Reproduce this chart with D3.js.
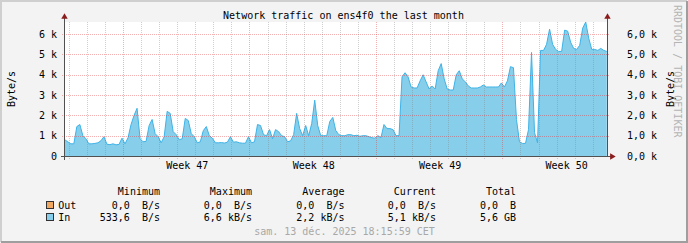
<!DOCTYPE html>
<html>
<head>
<meta charset="utf-8">
<script src="https://cdn.jsdelivr.net/npm/d3@7"></script>
<style>
  html, body { margin: 0; padding: 0; background: #f3f3f3; }
  svg { display: block; font-family: 'DejaVu Sans Mono', monospace; font-size: 10px; }
  text { white-space: pre; }
</style>
</head>
<body>
<svg id="chart" width="688" height="243"></svg>
<script>
'use strict'

// chart data
const title = 'Network traffic on ens4f0 the last month'
const unitLabel = 'Byte/s'
const watermark = 'RRDTOOL / TOBI OETIKER'
const rangeStart = '2025-11-13T18:16:00Z'
const rangeEnd = '2025-12-13T18:16:00Z'
const seriesStart = '2025-11-13T18:00:00Z'
const stepHours = 4
const yTicks = [0, 1000, 2000, 3000, 4000, 5000, 6000]
const yLabelsLeft = ['0', '1 k', '2 k', '3 k', '4 k', '5 k', '6 k']
const yLabelsRight = ['0,0 k', '1,0 k', '2,0 k', '3,0 k', '4,0 k', '5,0 k', '6,0 k']
const weekStarts = ['2025-11-17', '2025-11-24', '2025-12-01', '2025-12-08']
const weekLabels = ['Week 47', 'Week 48', 'Week 49', 'Week 50']

// In traffic, B/s, one value every 4 hours
const inValues = [
  800, 700, 600, 600, 1450, 1550, 1000, 850, 600, 600,
  620, 650, 750, 950, 580, 560, 600, 550, 570, 880,
  600, 900, 1550, 2000, 2350, 850, 700, 720, 1500, 1800,
  1100, 950, 650, 950, 2200, 2100, 1200, 1050, 800, 850,
  1850, 1750, 1100, 950, 650, 700, 1250, 1450, 1000, 880,
  650, 650, 660, 640, 680, 950, 680, 700, 650, 630,
  630, 950, 650, 700, 1550, 1500, 1050, 1000, 1300, 850,
  1300, 1200, 1000, 950, 700, 750, 1050, 2100, 1350, 1000,
  1500, 1000, 1600, 2750, 1500, 1000, 1000, 1000, 1700, 1900,
  1250, 1050, 1000, 1000, 1050, 1050, 1000, 1020, 970, 1000,
  1000, 950, 900, 880, 1000, 900, 1550, 1350, 1350, 1300,
  1000, 1000, 3900, 4100, 3900, 3400, 3350, 3350, 3700, 4000,
  3650, 3300, 3450, 3300, 4200, 4550, 3800, 3300, 3250, 3250,
  4000, 4200, 3800, 3650, 3450, 3350, 3350, 3350, 3400, 3500,
  3400, 3400, 3400, 3400, 3400, 3600, 3400, 3700, 4400, 4350,
  1800, 700, 620, 620, 1300, 5100, 1150, 650, 5200, 5200,
  5500, 6250, 5500, 5250, 5150, 5150, 6200, 6150, 5600, 5300,
  5250, 5450, 6300, 6600, 5800, 5250, 5250, 5200, 5300, 5200,
  5150
]

const legendNames = ['Out', 'In']
const legendHeads = ['Minimum', 'Maximum', 'Average', 'Current', 'Total']
const outStats = ['0,0  B/s', '0,0  B/s', '0,0  B/s', '0,0  B/s', '0,0  B']
const inStats = ['533,6  B/s', '6,6 kB/s', '2,2 kB/s', '5,1 kB/s', '5,6 GB']
const stamp = 'sam. 13 déc. 2025 18:15:59 CET'

// layout
const W = 688
const H = 243
const plot = {left: 65, right: 607, top: 22, bottom: 156}
const colors = {
  back: '#f3f3f3',
  shadeA: '#cfcfcf',
  shadeB: '#9e9e9e',
  canvas: '#ffffff',
  fill: '#87ceeb',
  line: '#3fb3e6',
  out: '#f0a860',
  minor: 'rgba(128,128,128,0.38)',
  major: 'rgba(225,50,50,0.38)',
  axis: '#505050',
  arrow: '#8b1c1c',
  stamp: '#a8a8a8',
  mark: '#b4b4b4'
}
const colRight = [160, 252, 344.5, 436, 516]

const svg = d3.select('#chart')

svg.append('rect').attr('width', W).attr('height', H).attr('fill', colors.back)
svg.append('path').attr('d', `M1,${H - 1}V1H${W - 1}`)
  .attr('fill', 'none').attr('stroke', colors.shadeA).attr('stroke-width', 2)
svg.append('path').attr('d', `M1,${H - 1}H${W - 1}V1`)
  .attr('fill', 'none').attr('stroke', colors.shadeB).attr('stroke-width', 2)

svg.append('rect')
  .attr('x', plot.left).attr('y', plot.top)
  .attr('width', plot.right - plot.left).attr('height', plot.bottom - plot.top)
  .attr('fill', colors.canvas)

svg.append('clipPath').attr('id', 'clip').append('rect')
  .attr('x', plot.left).attr('y', plot.top)
  .attr('width', plot.right - plot.left).attr('height', plot.bottom - plot.top)

const x = d3.scaleUtc()
  .domain([new Date(rangeStart), new Date(rangeEnd)])
  .range([plot.left, plot.right])
const y = d3.scaleLinear()
  .domain([0, d3.max(inValues)])
  .range([plot.bottom, plot.top])

const t0 = new Date(seriesStart).getTime()
const series = inValues.map(function (v, i) {
  return {t: new Date(t0 + i * stepHours * 3600e3), v: v}
})

const area = d3.area()
  .x(function (d) { return x(d.t) })
  .y0(y(0))
  .y1(function (d) { return y(d.v) })
const line = d3.line()
  .x(function (d) { return x(d.t) })
  .y(function (d) { return y(d.v) })

const data = svg.append('g').attr('clip-path', 'url(#clip)')
data.append('path').datum(series).attr('d', area).attr('fill', colors.fill)
data.append('path').datum(series).attr('d', line)
  .attr('fill', 'none').attr('stroke', colors.line).attr('stroke-width', 1)

// grid on top of the graph, like rrdtool
const grid = svg.append('g').attr('shape-rendering', 'crispEdges')
  .attr('stroke-dasharray', '1,1')
const days = d3.utcDay.range(x.domain()[0], x.domain()[1])
const mondays = weekStarts.map(function (s) { return +new Date(s + 'T00:00:00Z') })
grid.selectAll('.vgrid')
  .data(days)
  .enter().append('line')
  .attr('class', 'vgrid')
  .attr('x1', function (d) { return Math.floor(x(d)) + 0.5 })
  .attr('x2', function (d) { return Math.floor(x(d)) + 0.5 })
  .attr('y1', plot.top)
  .attr('y2', plot.bottom + 3)
  .attr('stroke', function (d) { return mondays.indexOf(+d) >= 0 ? colors.major : colors.minor })
grid.selectAll('.hgrid')
  .data(yTicks.slice(1))
  .enter().append('line')
  .attr('class', 'hgrid')
  .attr('x1', plot.left - 3)
  .attr('x2', plot.right + 3)
  .attr('y1', function (d) { return Math.round(y(d)) + 0.5 })
  .attr('y2', function (d) { return Math.round(y(d)) + 0.5 })
  .attr('stroke', colors.major)

// axis lines and arrows
const axes = svg.append('g').attr('shape-rendering', 'crispEdges').attr('stroke', colors.axis)
axes.append('line').attr('x1', plot.left - 0.5).attr('x2', plot.left - 0.5)
  .attr('y1', plot.top - 4).attr('y2', plot.bottom + 4)
axes.append('line').attr('x1', plot.right + 0.5).attr('x2', plot.right + 0.5)
  .attr('y1', plot.top - 4).attr('y2', plot.bottom + 1)
axes.append('line').attr('x1', plot.left - 4).attr('x2', plot.right + 4)
  .attr('y1', plot.bottom + 0.5).attr('y2', plot.bottom + 0.5)

const tri = d3.symbol().type(d3.symbolTriangle).size(18)
svg.append('path').attr('d', tri).attr('fill', colors.arrow)
  .attr('transform', `translate(${plot.left - 0.5},${plot.top - 5})`)
svg.append('path').attr('d', tri).attr('fill', colors.arrow)
  .attr('transform', `translate(${plot.right + 0.5},${plot.top - 5})`)
svg.append('path').attr('d', tri).attr('fill', colors.arrow)
  .attr('transform', `translate(${plot.right + 5},${plot.bottom + 0.5}) rotate(90)`)

// tick labels through d3 axes
const leftAxis = d3.axisLeft(y).tickValues(yTicks).tickSize(0).tickPadding(8)
  .tickFormat(function (d, i) { return yLabelsLeft[i] })
const rightAxis = d3.axisRight(y).tickValues(yTicks).tickSize(0).tickPadding(20)
  .tickFormat(function (d, i) { return yLabelsRight[i] })
const weekMid = weekStarts.map(function (s) {
  return d3.utcHour.offset(new Date(s + 'T00:00:00Z'), 84)
})
const bottomAxis = d3.axisBottom(x).tickValues(weekMid).tickSize(0).tickPadding(6)
  .tickFormat(function (d, i) { return weekLabels[i] })

function styleAxis (sel) {
  sel.select('.domain').remove()
  sel.attr('font-family', null).attr('font-size', null)
  sel.selectAll('text').attr('fill', '#000')
}
svg.append('g').attr('transform', `translate(${plot.left},0)`).call(leftAxis).call(styleAxis)
svg.append('g').attr('transform', `translate(${plot.right},0)`).call(rightAxis).call(styleAxis)
svg.append('g').attr('transform', `translate(0,${plot.bottom})`).call(bottomAxis).call(styleAxis)

// titles
svg.append('text').attr('x', 343.5).attr('y', 18.5).attr('text-anchor', 'middle').text(title)
svg.append('text').attr('transform', 'translate(14.5,89) rotate(-90)')
  .attr('text-anchor', 'middle').text(unitLabel)
svg.append('text').attr('transform', 'translate(673.5,89) rotate(-90)')
  .attr('text-anchor', 'middle').text(unitLabel)
svg.append('text').attr('transform', 'translate(674,5) rotate(90)')
  .attr('fill', colors.mark).text(watermark)

// legend
const legend = svg.append('g')
legend.selectAll('.head')
  .data(legendHeads)
  .enter().append('text')
  .attr('class', 'head')
  .attr('x', function (d, i) { return colRight[i] })
  .attr('y', 195.3)
  .attr('text-anchor', 'end')
  .text(function (d) { return d })

const rows = [
  {name: legendNames[0], color: colors.out, stats: outStats},
  {name: legendNames[1], color: colors.fill, stats: inStats}
]
const row = legend.selectAll('.row')
  .data(rows)
  .enter().append('g')
  .attr('class', 'row')
  .attr('transform', function (d, i) { return `translate(0,${208.6 + i * 12.7})` })
row.append('rect')
  .attr('x', 46.5).attr('y', -7.5).attr('width', 7).attr('height', 7)
  .attr('fill', function (d) { return d.color })
  .attr('stroke', '#303030').attr('shape-rendering', 'crispEdges')
row.append('text').attr('x', 58.3).text(function (d) { return d.name })
row.selectAll('.stat')
  .data(function (d) { return d.stats })
  .enter().append('text')
  .attr('class', 'stat')
  .attr('x', function (d, i) { return colRight[i] })
  .attr('text-anchor', 'end')
  .text(function (d) { return d })

svg.append('text').attr('x', 344.5).attr('y', 234.6).attr('text-anchor', 'middle')
  .attr('fill', colors.stamp).text(stamp)
</script>
</body>
</html>
